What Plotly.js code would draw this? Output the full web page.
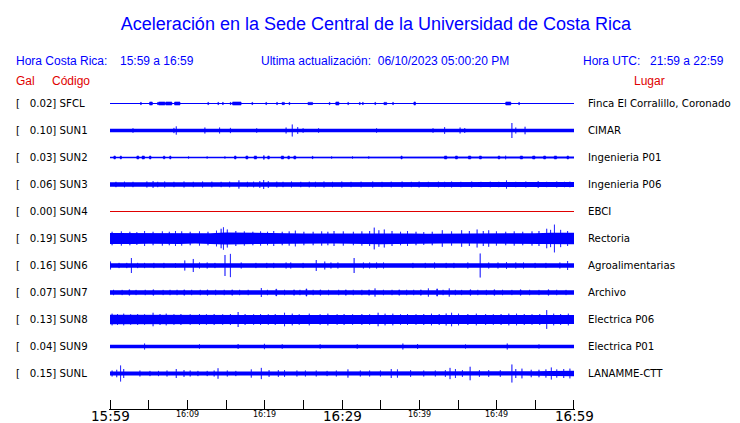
<!DOCTYPE html>
<html><head><meta charset="utf-8">
<script src="https://cdn.plot.ly/plotly-3.0.1.min.js"></script>
<style>html,body{margin:0;padding:0;background:#fff}</style>
</head><body><div id="chart" style="width:740px;height:423px"></div>
<script>
// ---------------- DATA ----------------
const stationCodes = ["SFCL","SUN1","SUN2","SUN3","SUN4","SUN5","SUN6","SUN7","SUN8","SUN9","SUNL"];
const stationPlaces = ["Finca El Corralillo, Coronado","CIMAR","Ingenieria P01","Ingenieria P06","EBCI","Rectoria","Agroalimentarias","Archivo","Electrica P06","Electrica P01","LANAMME-CTT"];
const peakGal = [0.02,0.10,0.03,0.06,0.00,0.19,0.16,0.07,0.13,0.04,0.15];

const timeTickMinutes = [0,5,10,15,20,25,30,35,40,45,50,55,60];
const timeTickLabels = ["15:59","","16:09","","16:19","","16:29","","16:39","","16:49","","16:59"];
const majorTickLabels = ["15:59","16:29","16:59"];

// background envelope (half amplitude, Gal) at 2-minute bin centres
const binMinutes = [1,3,5,7,9,11,13,15,17,19,21,23,25,27,29,31,33,35,37,39,41,43,45,47,49,51,53,55,57,59];
const envSFCL = [.004,.004,.004,.004,.004,.004,.004,.004,.004,.004,.004,.004,.004,.004,.004,.004,.004,.004,.004,.004,.004,.004,.004,.004,.004,.004,.004,.004,.004,.004];
const envSUN1 = [.022,.022,.02,.019,.022,.02,.02,.02,.019,.02,.02,.022,.02,.02,.018,.017,.017,.02,.02,.02,.019,.02,.02,.02,.02,.022,.022,.02,.02,.022];
const envSUN2 = [.01,.007,.011,.01,.007,.007,.007,.007,.009,.011,.009,.011,.007,.007,.008,.007,.007,.007,.008,.007,.007,.009,.011,.011,.008,.009,.011,.012,.012,.012];
const envSUN3 = [.03,.03,.034,.03,.03,.03,.03,.03,.032,.034,.034,.03,.03,.03,.03,.03,.03,.03,.03,.03,.03,.03,.032,.032,.03,.032,.032,.032,.032,.032];
const envSUN4 = [0,0,0,0,0,0,0,0,0,0,0,0,0,0,0,0,0,0,0,0,0,0,0,0,0,0,0,0,0,0];
const envSUN5 = [.072,.072,.07,.076,.072,.068,.07,.08,.076,.07,.07,.068,.068,.068,.068,.07,.07,.078,.074,.068,.065,.065,.068,.072,.074,.068,.068,.07,.078,.076];
const envSUN6 = [.03,.03,.027,.027,.027,.03,.027,.03,.027,.027,.027,.027,.027,.03,.027,.03,.027,.03,.027,.027,.027,.027,.027,.03,.03,.03,.027,.027,.027,.03];
const envSUN7 = [.03,.029,.029,.03,.029,.03,.029,.03,.03,.031,.03,.029,.03,.029,.03,.029,.031,.03,.029,.03,.031,.03,.029,.029,.029,.03,.029,.029,.029,.03];
const envSUN8 = [.062,.06,.058,.06,.057,.057,.057,.06,.058,.056,.057,.062,.057,.056,.055,.056,.058,.058,.057,.055,.056,.057,.06,.062,.058,.057,.058,.057,.058,.06];
const envSUN9 = [.024,.024,.024,.024,.024,.024,.024,.024,.024,.024,.024,.024,.024,.024,.024,.024,.024,.024,.024,.024,.024,.024,.024,.024,.024,.024,.024,.024,.024,.024];
const envSUNL = [.026,.024,.024,.024,.024,.024,.024,.026,.024,.026,.024,.024,.024,.024,.024,.024,.024,.026,.024,.024,.024,.024,.026,.026,.026,.026,.028,.03,.035,.038];

// bursts: time (minutes after 15:59), half amplitude (Gal), optional duration (minutes)
const burstTimeSFCL = [4.0,5.3,6.2,6.7,7.6,8.7,12.7,14.0,14.6,15.6,16.4,18.4,20.2,21.6,22.4,23.2,25.9,28.4,29.4,30.8,32.3,32.7,34.3,35.6,36.6,39.4,51.5,52.9];
const burstAmpSFCL  = [.015,.02,.015,.02,.02,.02,.015,.015,.015,.015,.02,.015,.015,.015,.015,.015,.015,.015,.02,.015,.015,.015,.015,.015,.015,.02,.02,.015];
const burstDurSFCL  = [.1,.35,.1,.8,.8,.7,.1,.1,.1,.1,1.1,.1,.1,.1,.3,.1,.6,.1,.4,.1,.1,.1,.1,.35,.1,.2,.65,.1];

const burstTimeSUN1 = [3.0,8.3,8.6,12.3,14.2,15.6,19.0,22.8,23.6,24.3,25.0,27.0,34.5,41.8,43.3,45.3,45.9,52.0,52.5,53.7];
const burstAmpSUN1  = [.03,.035,.055,.04,.04,.035,.03,.04,.08,.045,.03,.03,.03,.03,.045,.04,.033,.1,.04,.05];

const burstTimeSUN2 = [0.6,1.4,3.6,4.3,5.2,7.0,7.8,10.2,12.6,14.9,16.2,17.7,18.8,19.9,20.5,22.3,23.1,23.9,26.2,28.7,31.4,33.5,37.7,43.4,44.8,46.5,47.9,50.3,51.2,53.2,54.8,56.2,57.6,59.2];
const burstAmpSUN2  = [.019,.019,.019,.019,.019,.017,.019,.016,.016,.016,.019,.019,.019,.024,.019,.019,.019,.019,.016,.016,.016,.016,.019,.019,.019,.019,.019,.019,.024,.019,.019,.019,.019,.019];
const burstDurSUN2  = [.2,.15,.25,.3,.2,.2,.15,.08,.08,.08,.2,.25,.3,.1,.2,.3,.2,.25,.1,.08,.08,.08,.15,.3,.25,.3,.25,.2,.08,.3,.3,.25,.3,.2];

const burstTimeSUN3 = [0.8,1.9,3.0,4.8,5.6,6.2,7.1,8.3,9.6,10.8,12.0,13.2,14.4,15.5,16.7,17.8,18.6,19.4,19.9,20.5,21.6,22.4,23.5,24.7,25.8,26.6,27.7,28.8,30.0,31.2,32.5,34.0,35.2,36.4,37.8,39.0,40.0,41.2,42.5,43.3,44.2,45.4,46.8,48.0,49.2,50.3,51.3,52.5,53.8,55.4,56.5,57.8,58.8,59.5];
const burstAmpSUN3  = [.036,.038,.036,.04,.045,.036,.04,.036,.04,.036,.04,.038,.036,.038,.055,.036,.038,.045,.06,.045,.038,.036,.04,.036,.038,.036,.04,.036,.04,.036,.038,.04,.036,.038,.04,.036,.04,.036,.038,.036,.04,.036,.04,.036,.038,.036,.055,.036,.04,.045,.036,.04,.036,.038];

const burstTimeSUN5 = [0.3,1.5,2.6,3.5,4.5,5.6,6.8,7.7,8.5,9.3,10.4,11.6,12.7,13.8,14.4,14.7,15.2,16.3,17.4,18.5,19.5,20.4,21.2,22.3,23.2,24.0,25.1,26.3,27.4,28.2,29.0,30.2,31.5,32.6,33.6,34.2,34.8,35.5,36.5,37.6,38.5,39.6,40.6,41.7,43.0,44.2,45.5,46.5,47.5,48.3,49.0,50.0,51.2,52.3,53.4,54.6,55.5,56.5,57.0,57.5,58.3,59.2];
const burstAmpSUN5  = [.09,.095,.09,.085,.1,.09,.095,.09,.1,.095,.09,.095,.09,.105,.13,.15,.12,.1,.095,.09,.095,.09,.1,.09,.095,.105,.09,.09,.095,.09,.1,.095,.09,.095,.1,.145,.11,.12,.1,.09,.1,.09,.085,.09,.11,.095,.11,.1,.12,.1,.11,.095,.09,.095,.09,.095,.1,.13,.115,.185,.115,.1];

const burstTimeSUN6 = [0.1,1.2,2.2,2.8,3.6,4.5,5.7,7.0,8.5,9.7,10.8,11.6,12.6,13.6,14.9,15.6,17.0,18.9,20.3,21.2,22.8,23.4,25.0,26.7,27.8,28.6,29.5,31.6,32.8,33.6,34.5,35.4,39.2,40.8,42.0,43.5,44.5,46.3,47.9,49.0,50.2,51.3,52.5,53.5,55.0,56.4,58.2,59.2];
const burstAmpSUN6  = [.053,.035,.035,.1,.035,.035,.035,.035,.03,.067,.087,.04,.04,.035,.14,.155,.04,.035,.035,.035,.04,.04,.035,.073,.053,.04,.04,.1,.04,.04,.04,.04,.035,.035,.04,.035,.035,.04,.16,.04,.04,.045,.04,.04,.035,.035,.04,.06];

const burstTimeSUN7 = [0.5,1.6,2.5,3.4,4.6,5.6,6.9,7.8,8.7,9.6,10.6,11.7,12.6,13.7,14.8,15.8,16.8,17.9,19.6,20.4,21.5,22.6,23.8,24.6,25.4,26.3,27.2,28.3,29.6,30.5,31.5,32.6,33.5,34.3,35.4,36.5,37.4,38.4,39.3,40.2,41.2,42.3,43.1,43.9,44.7,45.5,46.6,47.6,48.7,49.7,50.8,52.0,53.1,54.3,55.5,56.7,57.8,59.0];
const burstAmpSUN7  = [.036,.035,.036,.035,.036,.036,.035,.036,.036,.035,.036,.036,.035,.036,.036,.035,.036,.036,.06,.036,.045,.036,.035,.036,.048,.036,.035,.036,.036,.035,.036,.036,.035,.055,.036,.036,.035,.036,.036,.035,.055,.048,.036,.055,.036,.035,.036,.036,.035,.036,.036,.035,.036,.036,.035,.036,.036,.035];
const burstDurSUN7  = [.08,.06,.1,.06,.08,.1,.06,.08,.06,.1,.08,.06,.1,.08,.06,.1,.08,.06,.06,.08,.1,.06,.1,.08,.1,.06,.1,.08,.06,.1,.08,.06,.1,.06,.08,.06,.1,.08,.06,.1,.06,.1,.06,.06,.08,.06,.1,.08,.06,.1,.08,.06,.1,.08,.06,.1,.08,.06];

const burstTimeSUN8 = [0.3,1.0,1.8,2.7,3.6,4.5,5.6,6.5,7.3,8.3,9.2,10.4,11.6,12.5,13.5,14.6,15.6,16.6,17.5,18.6,19.5,20.5,21.4,22.6,23.6,24.5,25.8,27.2,28.2,29.4,30.3,31.4,32.6,33.6,34.7,35.6,36.6,37.6,38.5,39.6,40.6,41.6,42.6,43.5,44.2,45.1,46.3,47.4,48.6,49.6,50.6,51.6,52.6,53.6,54.6,55.6,56.5,57.4,58.3,59.3];
const burstAmpSUN8  = [.078,.073,.078,.07,.073,.07,.09,.073,.078,.07,.073,.07,.073,.07,.073,.07,.073,.1,.073,.07,.073,.07,.073,.09,.078,.07,.078,.07,.078,.07,.073,.07,.073,.07,.09,.078,.078,.07,.073,.07,.073,.078,.073,.08,.09,.078,.073,.078,.073,.07,.073,.078,.078,.073,.07,.073,.125,.078,.073,.078];

const burstTimeSUN9 = [4.5,11.6,16.6,20.0,22.3,27.2,32.0,37.9,39.8,46.0,51.4,55.5];
const burstAmpSUN9  = [.04,.03,.033,.036,.03,.03,.03,.04,.033,.028,.04,.028];

const burstTimeSUNL = [0.3,0.9,1.4,1.8,3.9,5.2,6.3,7.4,8.6,9.6,10.4,11.4,12.6,13.5,14.0,15.2,16.3,18.3,19.6,20.6,21.8,22.6,24.2,25.3,26.7,28.1,29.3,30.8,32.4,33.6,35.0,36.4,37.2,38.9,40.6,42.1,43.4,44.0,44.7,45.6,46.6,47.8,49.0,50.5,52.0,52.5,53.3,54.5,55.5,56.4,57.1,57.8,58.7,59.5];
const burstAmpSUNL  = [.04,.05,.107,.06,.04,.035,.035,.04,.06,.045,.04,.035,.035,.04,.07,.04,.035,.055,.075,.045,.045,.045,.04,.04,.04,.035,.04,.055,.04,.04,.04,.06,.055,.045,.04,.04,.045,.075,.06,.045,.09,.045,.045,.045,.12,.06,.065,.05,.05,.055,.08,.055,.06,.065];

// ---------------- LAYOUT CONSTANTS ----------------
const W = 740, H = 423;
const AX_L = 110, AX_R = 574;
const EDGE_PAD = 1;
const PLOT_L = AX_L - EDGE_PAD, PLOT_R = AX_R + EDGE_PAD, PLOT_T = 90, PLOT_B = 409;
const ROW0 = 103.5, ROW_STEP = 27, PX_PER_GAL = 75;
const TICK_LEN = 9;
const BLUE = '#0000ff', RED = '#e00000';
const DEFAULT_BURST_DUR = 0.06;

const envelopes = [envSFCL,envSUN1,envSUN2,envSUN3,envSUN4,envSUN5,envSUN6,envSUN7,envSUN8,envSUN9,envSUNL];
const burstTimes = [burstTimeSFCL,burstTimeSUN1,burstTimeSUN2,burstTimeSUN3,[],burstTimeSUN5,burstTimeSUN6,burstTimeSUN7,burstTimeSUN8,burstTimeSUN9,burstTimeSUNL];
const burstAmps  = [burstAmpSFCL,burstAmpSUN1,burstAmpSUN2,burstAmpSUN3,[],burstAmpSUN5,burstAmpSUN6,burstAmpSUN7,burstAmpSUN8,burstAmpSUN9,burstAmpSUNL];
const burstDurs  = [burstDurSFCL,null,burstDurSUN2,null,null,null,null,burstDurSUN7,null,null,null];

const pxPerMin = (AX_R - AX_L) / 60;
const padMin = EDGE_PAD / pxPerMin;
const plotW = PLOT_R - PLOT_L, plotH = PLOT_B - PLOT_T;
const yTop = plotH / PX_PER_GAL;
const rowCenter = k => (PLOT_B - (ROW0 + ROW_STEP * k)) / PX_PER_GAL;
const px2paperX = px => (px - PLOT_L) / plotW;
const py2paperY = py => (PLOT_B - py) / plotH;

const traces = [];
stationCodes.forEach((code, k) => {
  const y0 = rowCenter(k);
  const col = peakGal[k] > 0 ? BLUE : RED;
  const env = envelopes[k];
  if (peakGal[k] > 0) {
    const xs = [0].concat(binMinutes, [60, 60], binMinutes.slice().reverse(), [0]);
    const up = [env[0]].concat(env, [env[env.length-1]]).map(v => y0 + v);
    const dn = [env[env.length-1]].concat(env.slice().reverse(), [env[0]]).map(v => y0 - v);
    traces.push({x: xs, y: up.concat(dn), mode: 'lines', fill: 'toself', fillcolor: col,
      line: {width: 0, color: col}, hoverinfo: 'skip', showlegend: false});
    const bx = [], by = [];
    burstTimes[k].forEach((t, i) => {
      const d = burstDurs[k] ? burstDurs[k][i] : DEFAULT_BURST_DUR;
      const a = burstAmps[k][i];
      bx.push(t - d/2, t - d/2, t + d/2, t + d/2, t - d/2, null);
      by.push(y0 - a, y0 + a, y0 + a, y0 - a, y0 - a, null);
    });
    traces.push({x: bx, y: by, mode: 'lines', fill: 'toself', fillcolor: col,
      line: {width: 0.6, color: col}, connectgaps: false, hoverinfo: 'skip', showlegend: false});
  }
  traces.push({x: [0, 60], y: [y0, y0], mode: 'lines', line: {width: 1, color: col},
    hoverinfo: 'skip', showlegend: false});
});

// end ticks at 15:59 and 16:59 (Plotly omits inside ticks at the range ends)
const halfPx = 0.5 / pxPerMin;
const endTickX = [], endTickY = [];
[timeTickMinutes[0] + halfPx, timeTickMinutes[timeTickMinutes.length - 1] - halfPx].forEach(m => {
  endTickX.push(m, m, null); endTickY.push(0, TICK_LEN / PX_PER_GAL, null);
});
traces.push({x: endTickX, y: endTickY, mode: 'lines', line: {width: 1, color: '#000'},
  hoverinfo: 'skip', showlegend: false});

const labelFont = {family: 'DejaVu Sans, sans-serif', size: 10.2, color: '#000'};
const headFont = {family: 'Liberation Sans, Arial, sans-serif', size: 12, color: BLUE};
const redFont = {family: 'Liberation Sans, Arial, sans-serif', size: 12, color: RED};
const ann = [];
function addPx(text, px, py, font, xanchor) {
  ann.push({xref: 'paper', yref: 'paper', x: px2paperX(px), y: py2paperY(py), text: text,
    xanchor: xanchor || 'left', yanchor: 'middle', showarrow: false, font: font, borderpad: 0});
}
stationCodes.forEach((code, k) => {
  const py = ROW0 + ROW_STEP * k;
  addPx('[\u00a0\u00a0\u00a0' + peakGal[k].toFixed(2) + '] ' + code, 14.5, py, labelFont);
  addPx(stationPlaces[k], 587, py, labelFont);
});
addPx('Hora Costa Rica:', 15, 61, headFont);
addPx('15:59 a 16:59', 118.5, 61, headFont);
addPx('Ultima actualización:\u00a0\u00a006/10/2023 05:00:20 PM', 260, 61, headFont);
addPx('Hora UTC:', 582, 61, headFont);
addPx('21:59 a 22:59', 649, 61, headFont);
addPx('Gal', 15, 81, redFont);
addPx('Código', 51, 81, redFont);
addPx('Lugar', 633, 81, redFont);

timeTickMinutes.forEach((m, i) => {
  const lab = timeTickLabels[i];
  if (!lab) return;
  const major = majorTickLabels.indexOf(lab) >= 0;
  ann.push({xref: 'x', yref: 'paper', x: m, y: py2paperY(major ? 416 : 414.5), text: lab,
    xanchor: 'center', yanchor: 'middle', showarrow: false, borderpad: 0,
    font: {family: 'DejaVu Sans, sans-serif', size: major ? 13.5 : 8, color: '#000'}});
});

const layout = {
  width: W, height: H,
  margin: {l: PLOT_L, r: W - PLOT_R, t: PLOT_T, b: H - PLOT_B, pad: 0},
  paper_bgcolor: '#fff', plot_bgcolor: '#fff', showlegend: false,
  title: {text: 'Aceleración en la Sede Central de la Universidad de Costa Rica',
    font: {family: 'Liberation Sans, Arial, sans-serif', size: 18, color: BLUE},
    xref: 'container', yref: 'container', x: 376 / W, y: 1 - 24 / H, xanchor: 'center', yanchor: 'middle'},
  xaxis: {range: [-padMin, 60 + padMin], showgrid: false, zeroline: false, showline: true, linecolor: '#000', linewidth: 1,
    ticks: 'inside', ticklen: TICK_LEN, tickwidth: 1, tickcolor: '#000', tickmode: 'array', tickvals: timeTickMinutes,
    showticklabels: false, fixedrange: true},
  yaxis: {range: [0, yTop], visible: false, showgrid: false, zeroline: false, fixedrange: true},
  annotations: ann
};

Plotly.newPlot('chart', traces, layout, {staticPlot: true, displayModeBar: false});
</script>
</body></html>
